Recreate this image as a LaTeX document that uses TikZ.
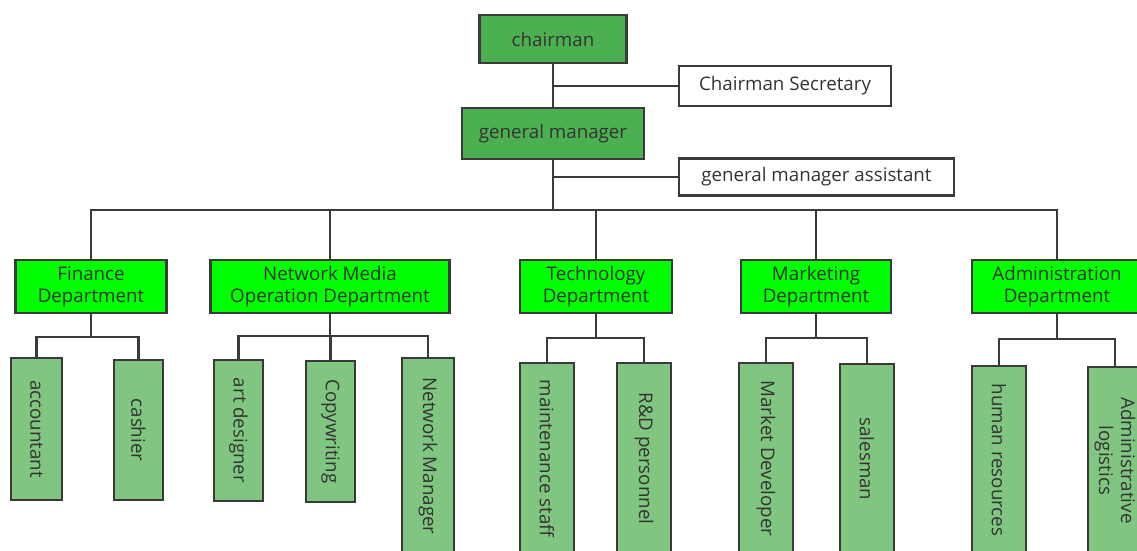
\documentclass[tikz,border=0pt]{standalone}
\usepackage{fontspec}
\setmainfont{Open Sans}
\usetikzlibrary{positioning}
\definecolor{lead green}{RGB}{76,175,80}
\definecolor{dept green}{RGB}{0,255,0}
\definecolor{staff green}{RGB}{128,197,128}
\definecolor{edge gray}{RGB}{58,58,58}
\definecolor{text gray}{RGB}{51,51,51}
\begin{document}
\begin{tikzpicture}[x=1bp, y=-1bp, line width=2.4bp, draw=edge gray,
  box/.style={rectangle,draw=edge gray,text=text gray,inner sep=0pt,align=center,font=\fontsize{18.8}{22}\selectfont},
  lead node/.style={box,fill=lead green},
  help node/.style={box,fill=white},
  dept node/.style={box,fill=dept green,minimum height=53bp},
  staff node/.style={box,fill=staff green,rotate=-90}]
\clip (0,0) rectangle (1137,551);
\begin{scope}
\node[lead node,minimum width=147bp,minimum height=48bp] (chair) at (553,39) {chairman};
\node[help node,minimum width=212bp,minimum height=40bp] (sec) at (785,86) {Chairman Secretary};
\node[lead node,minimum width=182bp,minimum height=51bp] (gm) at (553,133.5) {general manager};
\node[help node,minimum width=275bp,minimum height=37bp] (asst) at (816.5,177) {general manager assistant};
%departments
\node[dept node,minimum width=151bp] (fin) at (91,286.5) {Finance\\Department};
\node[dept node,minimum width=239bp] (net) at (330,286.5) {Network Media\\Operation Department};
\node[dept node,minimum width=152bp] (tech) at (596,286.5) {Technology\\Department};
\node[dept node,minimum width=150bp] (mkt) at (816,286.5) {Marketing\\Department};
\node[dept node,minimum width=170bp] (adm) at (1057,286.5) {Administration\\Department};
%staff
\node[staff node,minimum width=142bp,minimum height=51bp] (acc) at (36.5,429) {accountant};
\node[staff node,minimum width=140bp,minimum height=49bp] (cash) at (138.5,430) {cashier};
\node[staff node,minimum width=141bp,minimum height=49bp] (art) at (238.5,430.5) {art designer};
\node[staff node,minimum width=141bp,minimum height=49bp] (copy) at (330.5,431.5) {Copywriting};
\node[staff node,minimum width=196bp,minimum height=52bp] (netman) at (428,456) {Network Manager};
\node[staff node,minimum width=191bp,minimum height=54bp] (maint) at (547,458.5) {maintenance staff};
\node[staff node,minimum width=191bp,minimum height=54bp] (rd) at (644,458.5) {R\&D personnel};
\node[staff node,minimum width=191bp,minimum height=54bp] (mdev) at (766,458.5) {Market Developer};
\node[staff node,minimum width=190bp,minimum height=54bp] (sales) at (867,459) {salesman};
\node[staff node,minimum width=188bp,minimum height=54bp] (hr) at (999,460) {human resources};
\node[staff node,minimum width=187bp,minimum height=54bp] (admlog) at (1115,460.5) {Administrative\\logistics};
\end{scope}
\begin{scope}
\coordinate (secj) at (553,86);
\coordinate (asstj) at (553,177);
\coordinate (bus) at (553,210);
\coordinate (finj) at (91,337);
\coordinate (netj) at (330,336);
\coordinate (techj) at (596,338);
\coordinate (mktj) at (816,338);
\coordinate (admj) at (1057,339);
\draw (chair) -- (gm);
\draw (secj) -- (sec);
\draw (asstj) -- (asst);
\draw (gm) -- (bus);
\draw (bus) -| (fin);
\draw (bus) -| (net);
\draw (bus) -| (tech);
\draw (bus) -| (mkt);
\draw (bus) -| (adm);
\draw (fin) -- (finj) -| (acc);
\draw (finj) -| (cash);
\draw (net) -- (netj) -| (art);
\draw (netj) -| (copy);
\draw (netj) -| (netman);
\draw (tech) -- (techj) -| (maint);
\draw (techj) -| (rd);
\draw (mkt) -- (mktj) -| (mdev);
\draw (mktj) -| (sales);
\draw (adm) -- (admj) -| (hr);
\draw (admj) -| (admlog);
\end{scope}
\end{tikzpicture}
\end{document}
